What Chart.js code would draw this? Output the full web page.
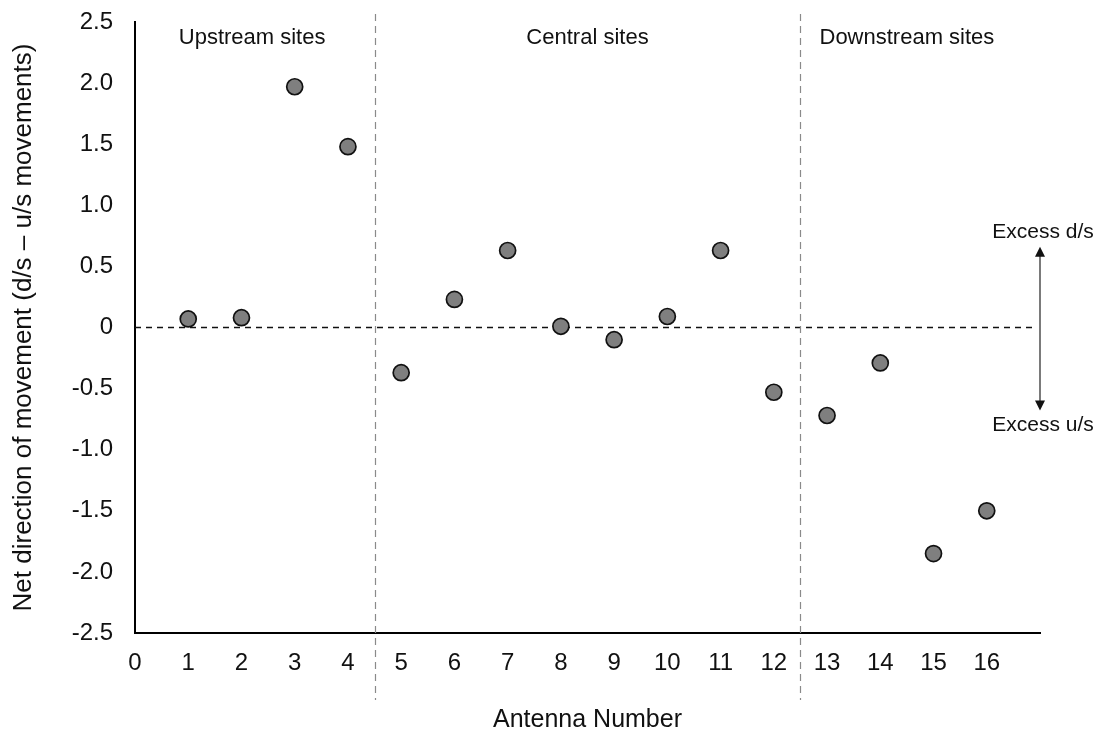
<!DOCTYPE html>
<html>
<head>
<meta charset="utf-8">
<script src="https://cdn.jsdelivr.net/npm/chart.js@4"></script>
<style>
  html, body { margin: 0; padding: 0; background: #fff; }
  #wrap { width: 1102px; height: 735px; }
</style>
</head>
<body>
<div id="wrap"><canvas id="netChart" width="1102" height="735"></canvas></div>
<script>
// 天线编号与净移动方向 (d/s - u/s)
const antennaNumbers = [1, 2, 3, 4, 5, 6, 7, 8, 9, 10, 11, 12, 13, 14, 15, 16];
const netDirection = [0.07, 0.08, 1.97, 1.48, -0.37, 0.23, 0.63, 0.01, -0.10, 0.09, 0.63, -0.53, -0.72, -0.29, -1.85, -1.50];

// 区段分界与标签
const sectionBreaks = [4.5, 12.5];
const sectionLabels = ['Upstream sites', 'Central sites', 'Downstream sites'];
const sectionCentres = [2.2, 8.5, 14.5];

// 右侧箭头说明
const arrowX = 17;
const arrowTop = 0.66;
const arrowBottom = -0.68;
const arrowTexts = ['Excess d/s', 'Excess u/s'];

const FONT = '"Liberation Sans", Arial, sans-serif';

(function() {
    const ctx = document.getElementById('netChart');

    // 自定义绘制: 分区虚线、零线、区段文字、箭头
    const annotations = {
        id: 'annotations',
        beforeDatasetsDraw(chart) {
            const c = chart.ctx;
            const x = chart.scales.x;
            const y = chart.scales.y;
            const area = chart.chartArea;
            c.save();

            // 零线
            c.strokeStyle = '#111';
            c.lineWidth = 1.5;
            c.setLineDash([6, 5]);
            c.beginPath();
            c.moveTo(area.left, y.getPixelForValue(0));
            c.lineTo(x.getPixelForValue(arrowX) - 4, y.getPixelForValue(0));
            c.stroke();

            // 分区竖线
            c.strokeStyle = '#8a8a8a';
            c.lineWidth = 1.2;
            c.setLineDash([7, 5]);
            sectionBreaks.forEach(v => {
                const px = Math.round(x.getPixelForValue(v)) + 0.5;
                c.beginPath();
                c.moveTo(px, area.top - 8);
                c.lineTo(px, area.bottom + 67);
                c.stroke();
            });
            c.setLineDash([]);

            // 区段文字
            c.fillStyle = '#111';
            c.font = '22px ' + FONT;
            c.textAlign = 'center';
            c.textBaseline = 'middle';
            sectionLabels.forEach((t, i) => {
                c.fillText(t, x.getPixelForValue(sectionCentres[i]), area.top + 16);
            });

            // 双向箭头
            const ax = x.getPixelForValue(arrowX);
            const yt = y.getPixelForValue(arrowTop);
            const yb = y.getPixelForValue(arrowBottom);
            c.strokeStyle = '#333';
            c.lineWidth = 1.3;
            c.beginPath();
            c.moveTo(ax, yt + 6);
            c.lineTo(ax, yb - 6);
            c.stroke();
            c.fillStyle = '#111';
            c.beginPath();
            c.moveTo(ax, yt);
            c.lineTo(ax - 5, yt + 10);
            c.lineTo(ax + 5, yt + 10);
            c.closePath();
            c.fill();
            c.beginPath();
            c.moveTo(ax, yb);
            c.lineTo(ax - 5, yb - 10);
            c.lineTo(ax + 5, yb - 10);
            c.closePath();
            c.fill();

            c.font = '21px ' + FONT;
            c.fillText(arrowTexts[0], ax + 3, yt - 15);
            c.fillText(arrowTexts[1], ax + 3, yb + 15);
            c.restore();
        }
    };

    new Chart(ctx, {
        type: 'scatter',
        data: {
            datasets: [{
                label: 'Net direction',
                data: antennaNumbers.map((n, i) => ({ x: n, y: netDirection[i] })),
                pointRadius: 8,
                pointHoverRadius: 8,
                pointBackgroundColor: '#7f7f7f',
                pointBorderColor: '#111',
                pointBorderWidth: 1.7
            }]
        },
        options: {
            responsive: false,
            animation: false,
            layout: { padding: { top: 22, right: 62, left: 0, bottom: 0 } },
            scales: {
                x: {
                    type: 'linear',
                    min: 0,
                    max: 17,
                    afterFit: s => { s.height = 102; s.paddingLeft = 0; s.paddingRight = 0; },
                    border: { color: '#000', width: 2 },
                    grid: { drawOnChartArea: false, drawTicks: false },
                    ticks: {
                        stepSize: 1,
                        padding: 16,
                        color: '#111',
                        font: { family: FONT, size: 24 },
                        maxRotation: 0,
                        autoSkip: false,
                        callback: v => (v <= 16 ? String(v) : '')
                    },
                    title: {
                        display: true,
                        text: 'Antenna Number',
                        color: '#111',
                        font: { family: FONT, size: 25 },
                        padding: { top: 0, bottom: 0 }
                    }
                },
                y: {
                    min: -2.5,
                    max: 2.5,
                    afterFit: s => { s.width = 135; s.paddingTop = 0; s.paddingBottom = 0; },
                    border: { color: '#000', width: 2 },
                    grid: { drawOnChartArea: false, drawTicks: false },
                    ticks: {
                        stepSize: 0.5,
                        padding: 22,
                        color: '#111',
                        font: { family: FONT, size: 24 },
                        callback: v => (Math.abs(v) < 1e-9 ? '0' : v.toFixed(1))
                    },
                    title: {
                        display: true,
                        text: 'Net direction of movement (d/s \u2013 u/s movements)',
                        color: '#111',
                        font: { family: FONT, size: 26 },
                        padding: { top: 8, bottom: 0 }
                    }
                }
            },
            plugins: {
                legend: { display: false },
                tooltip: { enabled: false }
            }
        },
        plugins: [annotations]
    });
})();
</script>
</body>
</html>
